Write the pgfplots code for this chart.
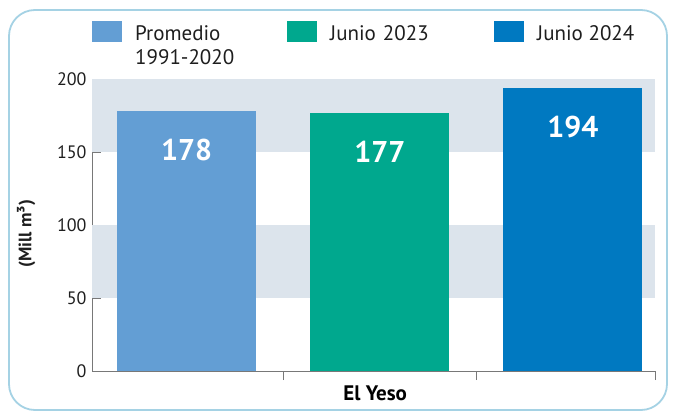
\documentclass[border=0pt]{standalone}
\usepackage{fontspec}
\setmainfont{PT Sans}
\usepackage{pgfplots}
\pgfplotsset{compat=1.18}
\definecolor{cA}{RGB}{99,158,212}
\definecolor{cB}{RGB}{0,168,142}
\definecolor{cC}{RGB}{0,121,193}
\definecolor{band}{RGB}{220,228,236}
\definecolor{axisgray}{RGB}{120,120,120}
\definecolor{framec}{RGB}{165,210,228}
\definecolor{txt}{RGB}{30,30,30}
\begin{document}
\begin{tikzpicture}
\useasboundingbox (0,0) rectangle (673bp,416bp);
\draw[rounded corners=26bp, line width=1.8bp, color=framec] (9bp,6bp) rectangle (667bp,406bp);
\begin{axis}[
  at={(92bp,45bp)}, anchor=south west,
  scale only axis, width=563bp, height=292bp,
  xmin=-0.49, xmax=2.425, ymin=0, ymax=200,
  axis x line*=bottom, axis y line*=left,
  axis line style={axisgray, line width=0.8bp},
  ytick={0,50,100,150,200},
  xtick={0.5,1.5,2.425}, xticklabels={},
  tick align=inside,
  tick style={axisgray, line width=0.8bp},
  major tick length=9bp,
  /pgf/number format/assume math mode=true,
  yticklabel style={font=\fontsize{18bp}{21bp}\selectfont, text=txt, xshift=-2bp},
  ylabel={\textbf{(Mill m³)}},
  ylabel style={at={(axis description cs:-0.117,0.47)}, anchor=center, font=\fontsize{18bp}{21bp}\selectfont, text=txt},
  xlabel={\textbf{El Yeso}},
  xlabel style={at={(axis description cs:0.503,-0.075)}, anchor=center, font=\fontsize{21bp}{24bp}\selectfont, text=black},
  ybar, bar width=0.72, bar shift=0pt,
  nodes near coords,
  every node near coord/.append style={anchor=center, yshift=-39bp, text=white, font=\bfseries\fontsize{30bp}{34bp}\selectfont},
  legend columns=3,
  legend style={at={(axis description cs:0,1)}, anchor=south west, yshift=37bp, draw=none, fill=none, inner sep=0pt,
    font=\fontsize{21bp}{24bp}\selectfont, text=txt,
    nodes={align=left, inner sep=0pt},
    /tikz/every even column/.append style={column sep=10bp}},
  legend cell align=left,
  legend image code/.code={\fill[#1, draw=none] (0bp,-8bp) rectangle (30bp,13bp); \path (43bp,0bp);},
  clip=false,
]
\fill[band] (axis cs:-0.49,150) rectangle (axis cs:2.425,200);
\fill[band] (axis cs:-0.49,50) rectangle (axis cs:2.425,100);
\addplot[fill=cA, draw=none] coordinates {(0,178)};
\addlegendentry[text width=142bp]{Promedio\\1991-2020}
\addplot[fill=cB, draw=none] coordinates {(1,177)};
\addlegendentry[text width=154bp]{Junio 2023}
\addplot[fill=cC, draw=none] coordinates {(2,194)};
\addlegendentry{Junio 2024}
\end{axis}
\end{tikzpicture}
\end{document}
